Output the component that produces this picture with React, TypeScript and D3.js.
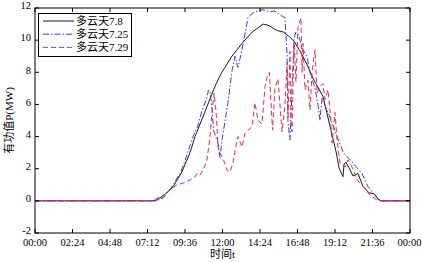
import React from "react";
import * as d3 from "d3";

// time in decimal hours, power in MW
const hours78 = [0, 7.5, 7.8, 8.3, 8.83, 9.4, 9.92, 10.24, 10.9, 11.3, 11.6, 11.95, 12.16, 12.6, 13.25, 13.9, 14.6, 15.0, 15.3, 15.5, 15.9, 16.3, 16.6, 16.95, 17.4, 17.8, 18.43, 18.94, 19.26, 19.46, 19.71, 19.78, 19.9, 20.1, 20.35, 20.67, 20.99, 21.38, 21.7, 21.95, 22.15, 24];
const power78 = [0, 0, 0.05, 0.4, 0.87, 1.8, 3.0, 4.0, 5.6, 6.6, 7.3, 8.0, 8.3, 9.0, 9.8, 10.5, 11.0, 10.9, 10.7, 10.6, 10.5, 10.2, 9.9, 9.35, 8.5, 7.6, 6.5, 4.4, 3.1, 2.05, 1.5, 2.3, 2.4, 2.05, 1.55, 1.7, 0.9, 0.5, 0.45, 0.1, 0, 0];

const hours725 = [0, 7.81, 8.19, 8.64, 9.28, 9.6, 10.11, 10.4, 10.7, 11.0, 11.1, 11.2, 11.36, 11.42, 11.71, 11.84, 11.97, 12.35, 12.48, 12.61, 12.8, 12.99, 13.25, 13.44, 13.63, 13.95, 14.53, 14.91, 15.36, 15.81, 16.0, 16.13, 16.19, 16.32, 16.45, 16.58, 16.7, 16.83, 17.15, 17.41, 17.6, 17.92, 18.11, 18.24, 18.37, 18.88, 19.33, 19.74, 20.35, 20.93, 21.31, 21.76, 22.08, 22.2, 24];
const power725 = [0, 0, 0.2, 0.7, 1.7, 2.5, 4.0, 4.6, 5.65, 6.4, 6.9, 6.8, 5.5, 4.4, 3.6, 2.7, 3.8, 6.1, 7.1, 8.1, 9.0, 8.3, 9.4, 10.4, 11.4, 11.7, 11.9, 11.8, 11.8, 11.5, 11.4, 9.1, 4.9, 3.8, 7.0, 10.1, 10.5, 10.4, 9.4, 9.0, 8.0, 7.0, 6.0, 5.0, 6.4, 5.2, 4.0, 3.0, 2.35, 1.7, 0.9, 0.35, 0.05, 0, 0];

const hours729 = [0, 7.49, 8.0, 8.19, 8.64, 9.09, 9.47, 9.92, 10.24, 10.37, 10.56, 10.75, 11.0, 11.2, 11.33, 11.46, 11.58, 11.65, 11.71, 11.84, 12.03, 12.29, 12.48, 12.67, 12.93, 12.99, 13.25, 13.44, 13.63, 13.89, 14.08, 14.27, 14.53, 14.72, 14.85, 15.0, 15.2, 15.36, 15.55, 15.81, 16.0, 16.13, 16.19, 16.32, 16.38, 16.45, 16.58, 16.7, 16.83, 17.02, 17.09, 17.15, 17.28, 17.47, 17.6, 17.73, 17.92, 18.05, 18.24, 18.43, 18.56, 18.75, 18.88, 19.01, 19.2, 19.33, 19.52, 19.84, 20.03, 20.29, 20.61, 20.99, 21.44, 21.89, 22.1, 24];
const power729 = [0, 0, 0.25, 0.15, 0.7, 1.0, 1.1, 1.3, 1.5, 1.7, 1.6, 1.9, 2.5, 4.0, 5.5, 6.7, 5.65, 4.6, 3.35, 3.0, 2.65, 1.9, 1.8, 2.35, 3.8, 4.0, 3.35, 4.2, 4.4, 4.6, 6.1, 5.0, 4.8, 7.1, 7.7, 8.0, 4.4, 7.0, 7.6, 4.3, 6.0, 8.6, 5.2, 9.3, 5.0, 4.3, 9.9, 7.4, 10.8, 11.4, 8.0, 9.8, 6.9, 7.5, 5.65, 7.95, 9.4, 6.7, 7.1, 7.3, 6.3, 6.9, 5.65, 3.6, 5.5, 3.8, 2.35, 2.1, 2.55, 2.1, 1.3, 0.9, 0.35, 0.05, 0, 0];

const seriesNames = ["多云天7.8", "多云天7.25", "多云天7.29"];
const xTickHours = [0, 2.4, 4.8, 7.2, 9.6, 12, 14.4, 16.8, 19.2, 21.6, 24];
const xTickLabels = ["00:00", "02:24", "04:48", "07:12", "09:36", "12:00", "14:24", "16:48", "19:12", "21:36", "00:00"];
const yTicks = [-2, 0, 2, 4, 6, 8, 10, 12];

const W = 422, H = 262;
const L = 35, R = 410, T = 8, B = 233;
const FONT = "'Liberation Serif', 'Times New Roman', 'Noto Sans CJK SC', serif";

export default function App() {
  const x = d3.scaleLinear().domain([0, 24]).range([L, R]);
  const y = d3.scaleLinear().domain([-2, 12]).range([B, T]);
  const line = d3.line<[number, number]>().x(d => x(d[0])).y(d => y(d[1]));
  const zip = (hs: number[], ps: number[]) => hs.map((h, i) => [h, ps[i]] as [number, number]);

  const styles = [
    { color: "#1a1a1a", dash: undefined as string | undefined, data: zip(hours78, power78) },
    { color: "#3c3cd2", dash: "6,2,1.5,2", data: zip(hours725, power725) },
    { color: "#e0324e", dash: "5,3", data: zip(hours729, power729) },
  ];
  const tk = 4;
  const ts = { fontFamily: FONT };

  return (
    <svg width={W} height={H} style={{ position: "absolute", left: 0, top: 0, background: "#fff" }}>
      <rect x={0} y={0} width={W} height={H} fill="#fff" />
      {styles.map((s, i) => (
        <path key={i} d={line(s.data) || ""} fill="none" stroke={s.color} strokeWidth={1} strokeDasharray={s.dash} />
      ))}
      <rect x={L} y={T} width={R - L} height={B - T} fill="none" stroke="#000" strokeWidth={1} />
      {xTickHours.map((h, i) => (
        <g key={"x" + i}>
          <line x1={x(h)} x2={x(h)} y1={B} y2={B - tk} stroke="#000" />
          <line x1={x(h)} x2={x(h)} y1={T} y2={T + tk} stroke="#000" />
          <text x={i === xTickHours.length - 1 ? x(h) - 0.5 : x(h)} y={246} textAnchor="middle" style={ts} fontSize={10.5} fill="#000">{xTickLabels[i]}</text>
        </g>
      ))}
      {yTicks.map((v, i) => (
        <g key={"y" + i}>
          <line x1={L} x2={L + tk} y1={y(v)} y2={y(v)} stroke="#000" />
          <line x1={R} x2={R - tk} y1={y(v)} y2={y(v)} stroke="#000" />
          <text x={31} y={y(v) + 1.3} textAnchor="end" style={ts} fontSize={10.5} fill="#000">{v}</text>
        </g>
      ))}
      <text x={(L + R) / 2} y={258} textAnchor="middle" style={ts} fontSize={11} fill="#000">时间t</text>
      <text transform={`translate(13,${(T + B) / 2}) rotate(-90)`} textAnchor="middle" style={ts} fontSize={11} fill="#000">有功值P(MW)</text>
      <g>
        <rect x={38.5} y={13.5} width={93} height={43} fill="#fff" stroke="#000" strokeWidth={1} />
        {styles.map((s, i) => (
          <g key={"lg" + i}>
            <line x1={43} x2={74} y1={21 + i * 13.2} y2={21 + i * 13.2} stroke={s.color} strokeWidth={1} strokeDasharray={s.dash} />
            <text x={76} y={21 + i * 13.2 + 4} style={ts} fontSize={11} fill="#000">{seriesNames[i]}</text>
          </g>
        ))}
      </g>
    </svg>
  );
}
